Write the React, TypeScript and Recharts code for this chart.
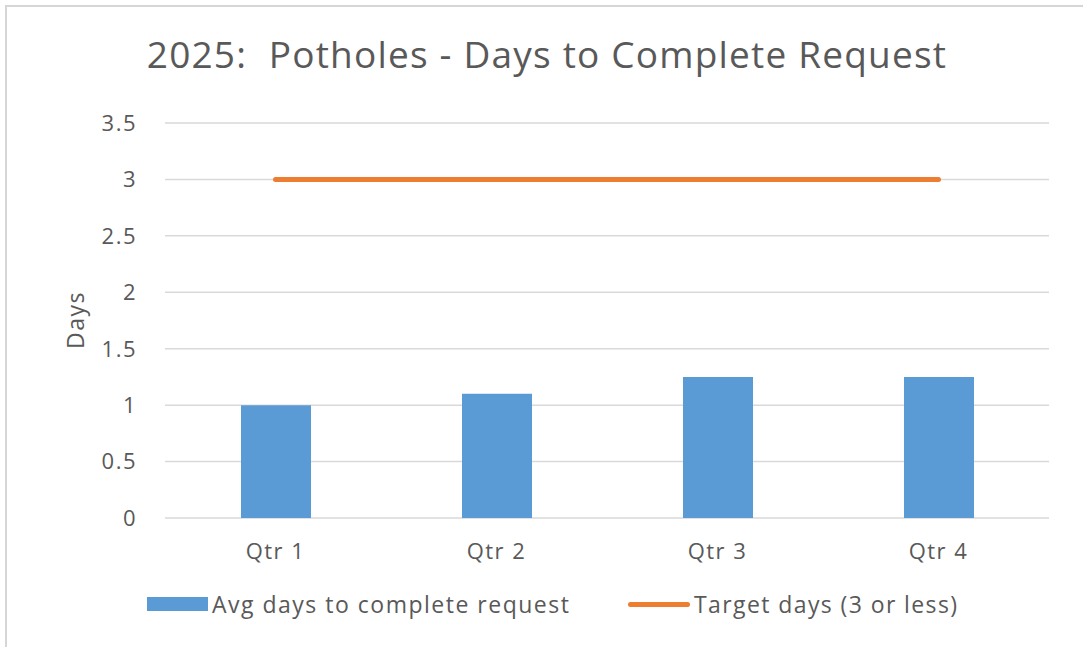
import React from 'react';
import {
  ComposedChart, Bar, Line, XAxis, YAxis, CartesianGrid,
} from 'recharts';

const quarters = ['Qtr 1', 'Qtr 2', 'Qtr 3', 'Qtr 4'];
const avgDays = [1, 1.1, 1.25, 1.25];
const targetDays = [3, 3, 3, 3];
const yTicks = [0, 0.5, 1, 1.5, 2, 2.5, 3, 3.5];

const TEXT = '#595959';
const BLUE = '#5B9BD5';
const ORANGE = '#ED7D31';
const FONT = '"Open Sans", "Noto Sans", sans-serif';

export default function App() {
  const data = quarters.map((q, i) => ({
    quarter: q,
    avg: avgDays[i],
    target: targetDays[i],
  }));

  const tickStyle = { fill: TEXT, fontSize: 22, fontFamily: FONT, letterSpacing: 1.5 };

  return (
    <div
      style={{
        position: 'absolute', left: 0, top: 0, width: 1083, height: 647,
        background: '#fff', fontFamily: FONT, overflow: 'hidden',
      }}
    >
      <div
        style={{
          position: 'absolute', left: 5, top: 5, width: 1076, height: 660,
          borderLeft: '2px solid #d6d6d6', borderTop: '2px solid #d6d6d6',
          borderRight: '1px solid #eeeeee',
        }}
      />
      <div
        style={{
          position: 'absolute', left: 0, width: 1094, top: 31, textAlign: 'center',
          fontSize: 37, letterSpacing: 1.2, color: TEXT, whiteSpace: 'pre', lineHeight: '46px',
        }}
      >
        {'2025:  Potholes - Days to Complete Request'}
      </div>
      <div
        style={{
          position: 'absolute', left: 40, top: 305, width: 70, textAlign: 'center',
          fontSize: 23, letterSpacing: 1.5, color: TEXT, transform: 'rotate(-90deg)', lineHeight: '30px',
        }}
      >
        Days
      </div>

      <ComposedChart
        width={1083}
        height={647}
        data={data}
        margin={{ top: 123, right: 34, bottom: 89, left: 0 }}
        style={{ position: 'absolute', left: 0, top: 0 }}
      >
        <CartesianGrid vertical={false} stroke="#d9d9d9" strokeWidth={1.5} />
        <XAxis
          dataKey="quarter"
          axisLine={false}
          tickLine={false}
          height={40}
          tickMargin={19}
          tick={tickStyle}
        />
        <YAxis
          width={165}
          domain={[0, 3.5]}
          ticks={yTicks}
          axisLine={false}
          tickLine={false}
          tickMargin={22}
          tick={tickStyle}
        />
        <Bar dataKey="avg" fill={BLUE} barSize={70} isAnimationActive={false} />
        <Line
          type="linear"
          dataKey="target"
          stroke={ORANGE}
          strokeWidth={5}
          strokeLinecap="round"
          dot={false}
          activeDot={false}
          isAnimationActive={false}
        />
      </ComposedChart>

      <div
        style={{
          position: 'absolute', left: 147, top: 588, display: 'flex',
          alignItems: 'center', fontSize: 23, letterSpacing: 1.5, color: TEXT, lineHeight: '32px',
        }}
      >
        <span style={{ display: 'inline-block', width: 61, height: 14, background: BLUE, marginRight: 4 }} />
        <span>Avg days to complete request</span>
      </div>
      <div
        style={{
          position: 'absolute', left: 628, top: 588, display: 'flex',
          alignItems: 'center', fontSize: 23, letterSpacing: 1.4, color: TEXT, lineHeight: '32px',
        }}
      >
        <span style={{ display: 'inline-block', width: 62, height: 5, borderRadius: 3, background: ORANGE, marginRight: 4 }} />
        <span>Target days (3 or less)</span>
      </div>
    </div>
  );
}
